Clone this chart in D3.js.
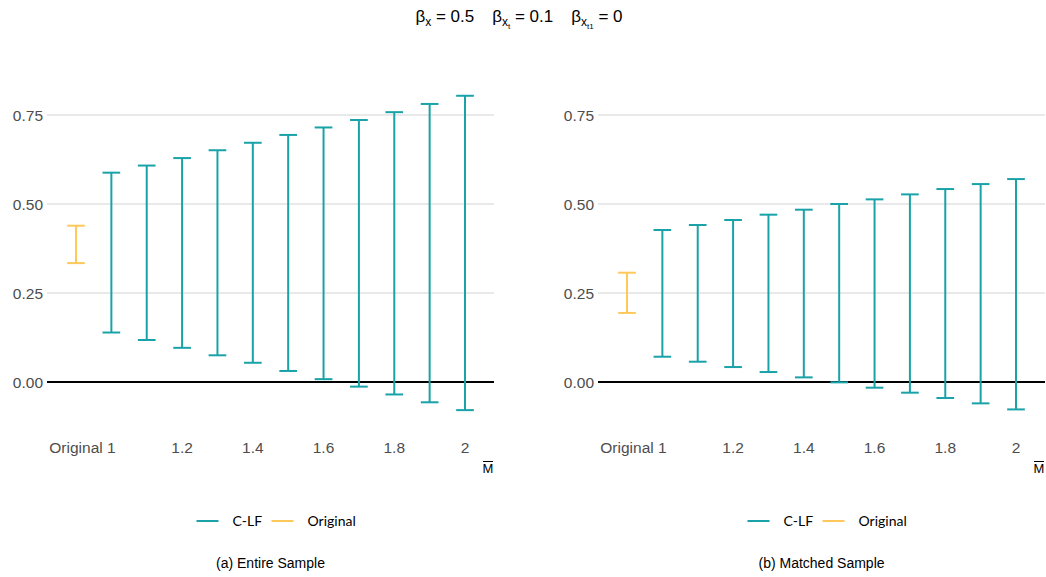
<!DOCTYPE html>
<html>
<head>
<meta charset="utf-8">
<script src="https://cdn.jsdelivr.net/npm/d3@7"></script>
<style>
  html, body { margin: 0; padding: 0; background: #fff; }
  svg { display: block; }
</style>
</head>
<body>
<svg id="chart" width="1046" height="577"></svg>
<script>
// ---- data ----
const mValues = [1.0, 1.1, 1.2, 1.3, 1.4, 1.5, 1.6, 1.7, 1.8, 1.9, 2.0];
const originalPos = 0.9;
const entireUpper = [0.588, 0.608, 0.629, 0.651, 0.672, 0.694, 0.715, 0.736, 0.758, 0.781, 0.804];
const entireLower = [0.139, 0.118, 0.096, 0.075, 0.054, 0.031, 0.008, -0.013, -0.035, -0.057, -0.079];
const entireOriginal = [0.334, 0.439];
const matchedUpper = [0.427, 0.441, 0.455, 0.470, 0.484, 0.500, 0.513, 0.527, 0.542, 0.556, 0.570];
const matchedLower = [0.071, 0.057, 0.042, 0.028, 0.013, -0.001, -0.016, -0.030, -0.045, -0.060, -0.077];
const matchedOriginal = [0.194, 0.307];
const xTickValues = [0.9, 1, 1.2, 1.4, 1.6, 1.8, 2];
const xTickLabels = ["Original", "1", "1.2", "1.4", "1.6", "1.8", "2"];
const yTickValues = [0, 0.25, 0.5, 0.75];
const yTickLabels = ["0.00", "0.25", "0.50", "0.75"];
const legendLabels = ["C-LF", "Original"];
const captions = ["(a) Entire Sample", "(b) Matched Sample"];

const teal = "#19a2a8";
const orange = "#ffc85a";

const svg = d3.select("#chart");

// ---- title ----
const title = svg.append("text")
  .attr("x", 519).attr("y", 22)
  .attr("text-anchor", "middle")
  .style("font-family", "'Liberation Sans', Arial, sans-serif")
  .style("font-size", "17px")
  .style("white-space", "pre")
  .attr("fill", "#000");
title.append("tspan").text("β");
title.append("tspan").attr("dy", 4).style("font-size", "12px").text("x");
title.append("tspan").attr("dy", -4).text(" = 0.5");
title.append("tspan").attr("dx", 18).text("β");
title.append("tspan").attr("dy", 4).style("font-size", "12px").text("x");
title.append("tspan").attr("dy", 3).style("font-size", "8px").text("t");
title.append("tspan").attr("dy", -7).text(" = 0.1");
title.append("tspan").attr("dx", 18).text("β");
title.append("tspan").attr("dy", 4).style("font-size", "12px").text("x");
title.append("tspan").attr("dy", 3).style("font-size", "8px").text("t1");
title.append("tspan").attr("dy", -7).text(" = 0");

// ---- panels ----
const panels = [
  {x0: 47, x1: 494, upper: entireUpper, lower: entireLower, orig: entireOriginal, caption: captions[0]},
  {x0: 598, x1: 1045, upper: matchedUpper, lower: matchedLower, orig: matchedOriginal, caption: captions[1]}
];

const y = d3.scaleLinear().domain([-0.1, 0.83]).range([382 + 0.1 * 356, 382 - 0.83 * 356]);
const capHalf = 0.025;

panels.forEach(p => {
  const x = d3.scaleLinear().domain([0.818, 2.082]).range([p.x0, p.x1]);
  const g = svg.append("g");

  g.selectAll("line.grid").data(yTickValues.filter(v => v !== 0)).join("line")
    .attr("x1", p.x0).attr("x2", p.x1)
    .attr("y1", d => y(d)).attr("y2", d => y(d))
    .attr("stroke", "#d3d3d3").attr("stroke-width", 1);

  g.append("line")
    .attr("x1", p.x0).attr("x2", p.x1)
    .attr("y1", y(0)).attr("y2", y(0))
    .attr("stroke", "#000").attr("stroke-width", 2);

  g.selectAll("text.ytick").data(yTickValues).join("text")
    .attr("x", p.x0 - 4).attr("y", d => y(d) + 5.5)
    .attr("text-anchor", "end")
    .style("font-family", "'Liberation Sans', Arial, sans-serif")
    .style("font-size", "15.5px")
    .attr("fill", "#4d4d4d")
    .text((d, i) => yTickLabels[i]);

  g.selectAll("text.xtick").data(xTickValues).join("text")
    .attr("x", d => x(d)).attr("y", 452.5)
    .attr("text-anchor", "middle")
    .style("font-family", "'Liberation Sans', Arial, sans-serif")
    .style("font-size", "15.5px")
    .attr("fill", "#4d4d4d")
    .text((d, i) => xTickLabels[i]);

  const mx = p.x1 - 6;
  g.append("text")
    .attr("x", mx).attr("y", 473)
    .attr("text-anchor", "middle")
    .style("font-family", "'Liberation Sans', Arial, sans-serif")
    .style("font-size", "13px")
    .attr("fill", "#000")
    .text("M");
  g.append("line")
    .attr("x1", mx - 5).attr("x2", mx + 5)
    .attr("y1", 461.5).attr("y2", 461.5)
    .attr("stroke", "#000").attr("stroke-width", 1);

  const bars = mValues.map((m, i) => ({x: m, lo: p.lower[i], hi: p.upper[i], c: teal}));
  bars.unshift({x: originalPos, lo: p.orig[0], hi: p.orig[1], c: orange});
  const eb = g.selectAll("g.eb").data(bars).join("g");
  eb.append("line")
    .attr("x1", d => x(d.x)).attr("x2", d => x(d.x))
    .attr("y1", d => y(d.lo)).attr("y2", d => y(d.hi))
    .attr("stroke", d => d.c).attr("stroke-width", 2);
  eb.append("line")
    .attr("x1", d => x(d.x - capHalf)).attr("x2", d => x(d.x + capHalf))
    .attr("y1", d => y(d.hi)).attr("y2", d => y(d.hi))
    .attr("stroke", d => d.c).attr("stroke-width", 2);
  eb.append("line")
    .attr("x1", d => x(d.x - capHalf)).attr("x2", d => x(d.x + capHalf))
    .attr("y1", d => y(d.lo)).attr("y2", d => y(d.lo))
    .attr("stroke", d => d.c).attr("stroke-width", 2);

  const cx = (p.x0 + p.x1) / 2;
  const legY = 521;
  const items = [
    {label: legendLabels[0], c: teal, lx: cx - 74, tx: cx - 38},
    {label: legendLabels[1], c: orange, lx: cx + 1, tx: cx + 37}
  ];
  items.forEach(it => {
    g.append("line")
      .attr("x1", it.lx).attr("x2", it.lx + 22)
      .attr("y1", legY).attr("y2", legY)
      .attr("stroke", it.c).attr("stroke-width", 2);
    g.append("text")
      .attr("x", it.tx).attr("y", legY + 5)
      .style("font-family", "Lato, 'Open Sans', sans-serif")
      .style("font-size", "14px")
      .attr("fill", "#000")
      .text(it.label);
  });

  g.append("text")
    .attr("x", cx).attr("y", 568)
    .attr("text-anchor", "middle")
    .style("font-family", "'Liberation Sans', Arial, sans-serif")
    .style("font-size", "14px")
    .attr("fill", "#000")
    .text(p.caption);
});
</script>
</body>
</html>
